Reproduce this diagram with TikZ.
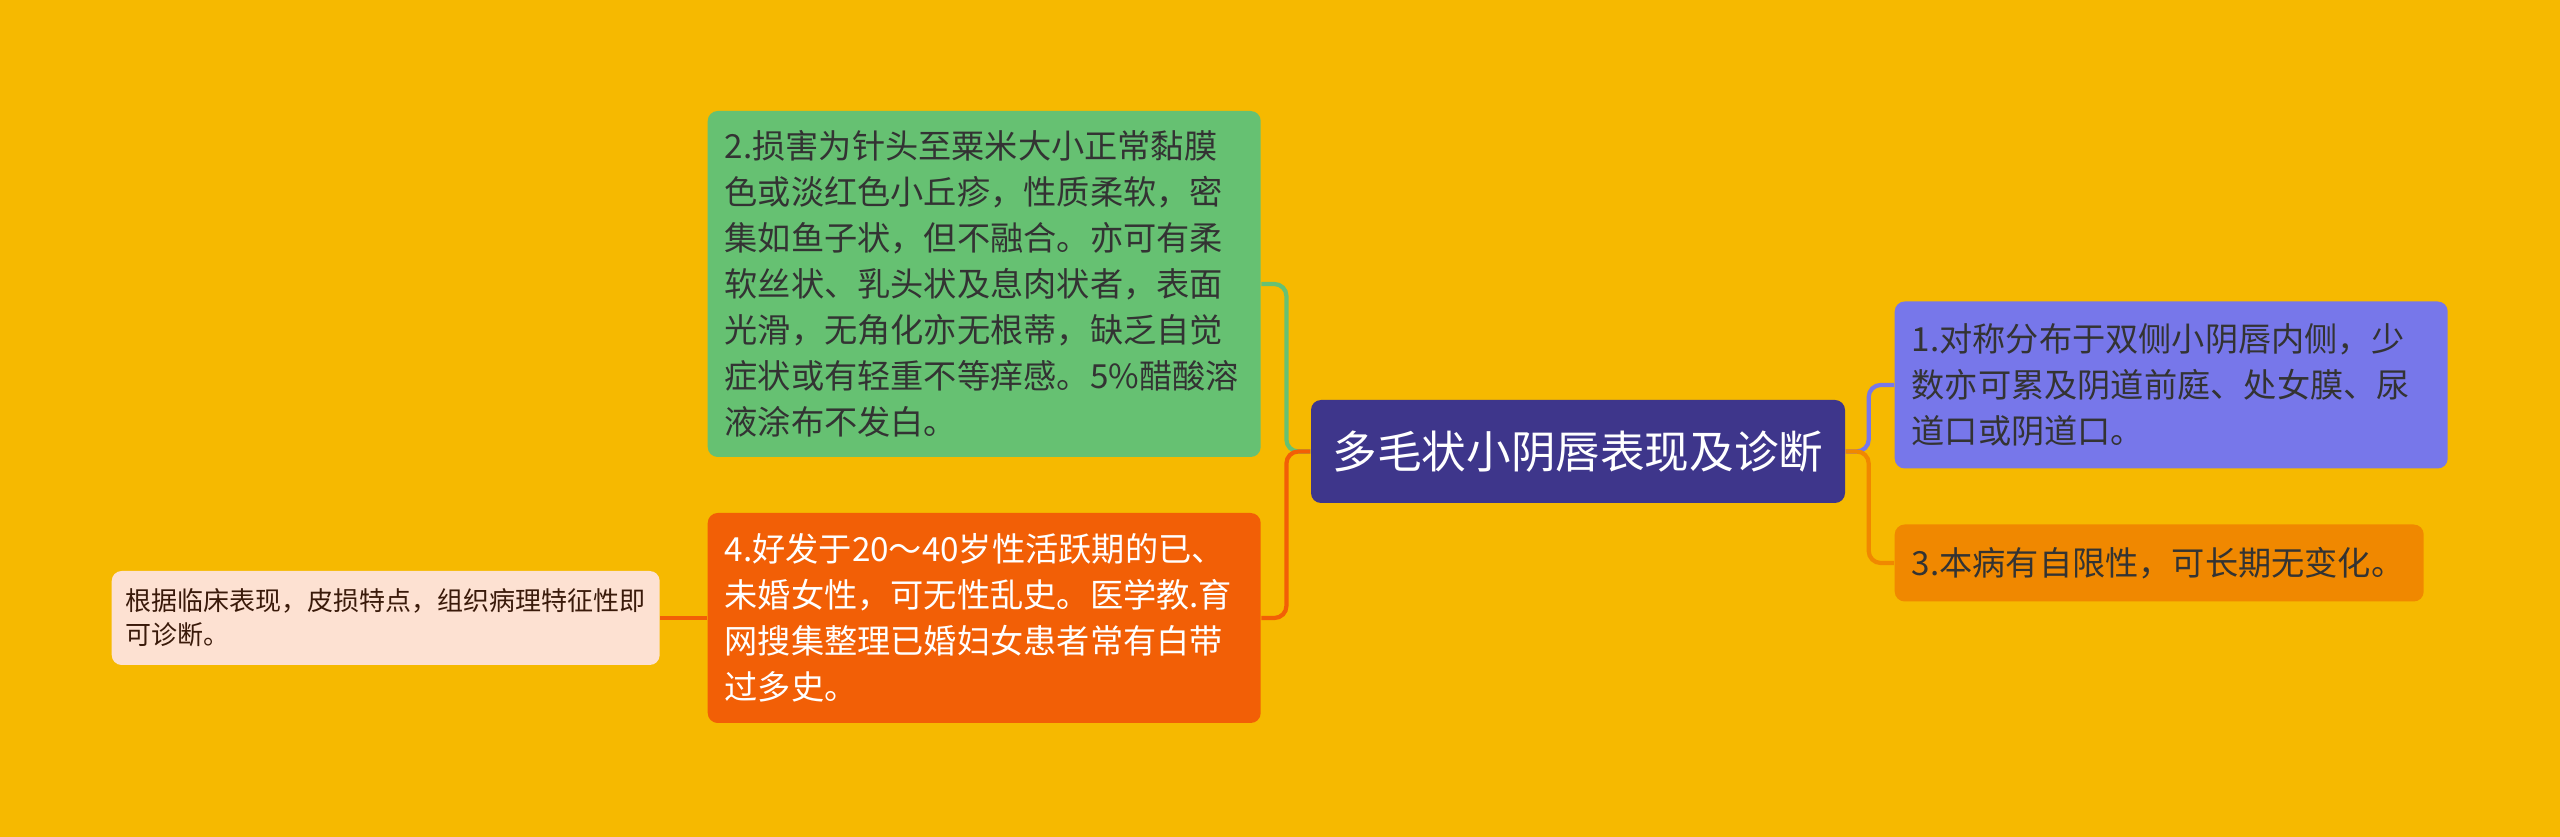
\documentclass[tikz,border=0pt]{standalone}
\usepackage{fontspec}
\setmainfont{Noto Sans CJK SC}
\definecolor{bgyellow}{HTML}{F6B900}
\definecolor{rootblue}{HTML}{3E368B}
\definecolor{leafgreen}{HTML}{66C172}
\definecolor{deeporange}{HTML}{F25F06}
\definecolor{softblue}{HTML}{7777EA}
\definecolor{midorange}{HTML}{F08800}
\definecolor{palepink}{HTML}{FDE1D2}
\definecolor{textdark}{HTML}{333333}
\definecolor{textbrown}{HTML}{3A1A0A}
\begin{document}
\begin{tikzpicture}[x=0.1mm,y=-0.1mm,
    box/.style={rounded corners=1mm,anchor=west,align=left,inner xsep=1.7mm,inner ysep=0pt,
      text=textdark,font=\fontsize{9.45}{13.1}\selectfont},
    link/.style={line width=1.2pt,rounded corners=1.2mm}]
        %% background
        \fill[bgyellow] (0,0) rectangle (2560,837);
        \useasboundingbox (0,0) rectangle (2560,837);
        %% root
        \node[fill=rootblue,rounded corners=1mm,text=white,minimum width=53.4mm,minimum height=10.3mm,
          font=\fontsize{12.7}{15}\selectfont] (root) at (1578,451.5) {多毛状小阴唇表现及诊断};
        %% left branches
        \node[box,fill=leafgreen,text width=51.9mm,minimum height=34.6mm] (symptom) at (707,284)
          {2.损害为针头至粟米大小正常黏膜\\色或淡红色小丘疹，性质柔软，密\\集如鱼子状，但不融合。亦可有柔\\软丝状、乳头状及息肉状者，表面\\光滑，无角化亦无根蒂，缺乏自觉\\症状或有轻重不等痒感。5\%醋酸溶\\液涂布不发白。};
        \node[box,fill=deeporange,text=white,text width=51.9mm,minimum height=21mm] (onset) at (707,618)
          {4.好发于20～40岁性活跃期的已、\\未婚女性，可无性乱史。医学教.育\\网搜集整理已婚妇女患者常有白带\\过多史。};
        \node[box,fill=palepink,text=textbrown,inner xsep=1.4mm,text width=52mm,minimum height=9.4mm,
          font=\fontsize{7.4}{9.7}\selectfont] (diag) at (111,618)
          {根据临床表现，皮损特点，组织病理特征性即\\可诊断。};
        %% right branches
        \node[box,fill=softblue,text width=51.9mm,minimum height=16.7mm] (site) at (1894,385)
          {1.对称分布于双侧小阴唇内侧，少\\数亦可累及阴道前庭、处女膜、尿\\道口或阴道口。};
        \node[box,fill=midorange,text width=49.5mm,minimum height=7.7mm] (course) at (1894,563)
          {3.本病有自限性，可长期无变化。};
        %% connectors
        \draw[link,leafgreen] (symptom.east) -- ++(25,0) |- (root.west);
        \draw[link,deeporange] (onset.east) -- ++(25,0) |- (root.west);
        \draw[link,deeporange] (onset.west) -- (diag.east);
        \draw[link,softblue] (root.east) -- ++(23,0) |- (site.west);
        \draw[link,midorange] (root.east) -- ++(23,0) |- (course.west);
    \end{tikzpicture}
\end{document}
